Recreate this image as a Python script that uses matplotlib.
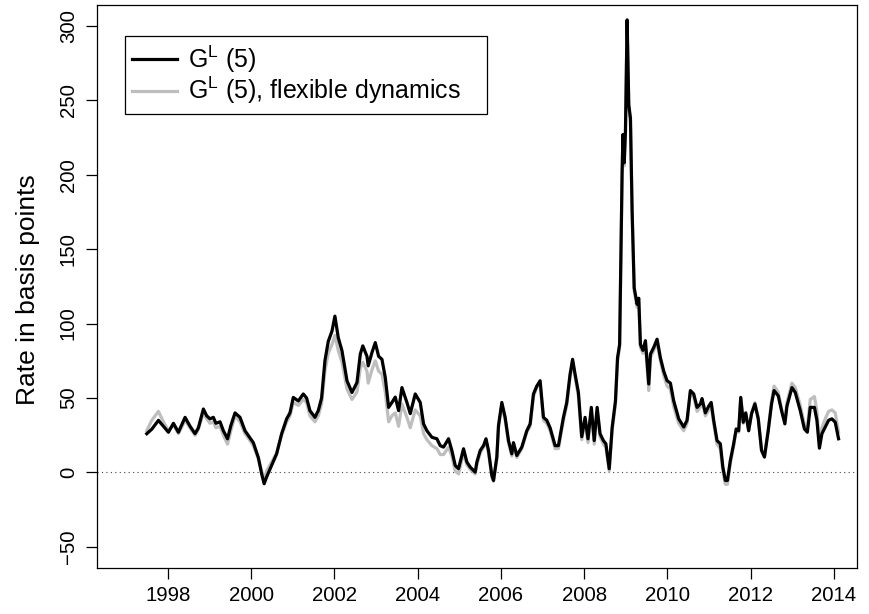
import matplotlib
matplotlib.use("Agg")
import matplotlib.pyplot as plt

# decimal years and rates in basis points
aar = [1997.49, 1997.61, 1997.77, 1997.89, 1998.01, 1998.13, 1998.25, 1998.41, 1998.53, 1998.65,
       1998.73, 1998.85, 1998.93, 1999.01, 1999.09, 1999.15, 1999.25, 1999.33, 1999.43, 1999.51,
       1999.61, 1999.73, 1999.85, 1999.93, 2000.05, 2000.17, 2000.25, 2000.31, 2000.37, 2000.49,
       2000.61, 2000.73, 2000.85, 2000.93, 2001.01, 2001.13, 2001.25, 2001.33, 2001.41, 2001.53,
       2001.61, 2001.69, 2001.77, 2001.85, 2001.94, 2002.01, 2002.09, 2002.18, 2002.30, 2002.42,
       2002.54, 2002.62, 2002.68, 2002.78, 2002.81, 2002.90, 2002.98, 2003.06, 2003.14, 2003.22,
       2003.30, 2003.38, 2003.46, 2003.54, 2003.62, 2003.74, 2003.82, 2003.94, 2004.06, 2004.14,
       2004.22, 2004.34, 2004.46, 2004.54, 2004.62, 2004.74, 2004.82, 2004.90, 2004.98, 2005.10,
       2005.18, 2005.26, 2005.38, 2005.42, 2005.50, 2005.58, 2005.64, 2005.70, 2005.78, 2005.82,
       2005.90, 2005.94, 2006.02, 2006.10, 2006.18, 2006.26, 2006.30, 2006.38, 2006.50, 2006.62,
       2006.70, 2006.78, 2006.86, 2006.94, 2007.02, 2007.10, 2007.18, 2007.30, 2007.38, 2007.50,
       2007.58, 2007.66, 2007.72, 2007.78, 2007.86, 2007.94, 2008.02, 2008.09, 2008.17, 2008.24,
       2008.31, 2008.38, 2008.46, 2008.52, 2008.60, 2008.67, 2008.75, 2008.80, 2008.85, 2008.91,
       2008.93, 2008.96, 2008.99, 2009.03, 2009.07, 2009.11, 2009.15, 2009.20, 2009.27, 2009.31,
       2009.35, 2009.41, 2009.47, 2009.55, 2009.59, 2009.67, 2009.75, 2009.83, 2009.91, 2009.99,
       2010.07, 2010.15, 2010.27, 2010.39, 2010.47, 2010.55, 2010.63, 2010.71, 2010.79, 2010.83,
       2010.91, 2010.99, 2011.05, 2011.11, 2011.19, 2011.27, 2011.33, 2011.39, 2011.44, 2011.51,
       2011.59, 2011.65, 2011.71, 2011.76, 2011.82, 2011.88, 2011.95, 2012.02, 2012.10, 2012.18,
       2012.26, 2012.33, 2012.42, 2012.50, 2012.56, 2012.66, 2012.74, 2012.82, 2012.87, 2012.99,
       2013.07, 2013.19, 2013.29, 2013.36, 2013.43, 2013.53, 2013.59, 2013.65, 2013.71, 2013.79,
       2013.87, 2013.95, 2014.03, 2014.11]

gl5 = [26, 29, 35, 31, 27, 33, 27, 37, 31, 26,
       30, 42.6, 38, 36, 37, 33, 34, 28, 22.6, 31.5,
       40, 37, 28, 24.8, 20, 10, -1, -7.6, -3, 4.7,
       12.5, 26, 36, 40, 50.4, 48, 52.7, 50, 41.5, 37,
       41.5, 50, 75, 88, 95, 105, 90.6, 81.7, 61.6, 53.7,
       60.4, 79.5, 85, 78, 71.6, 80.5, 87.2, 78, 76, 63.8,
       43.7, 47, 50.6, 41.5, 57, 47, 39.5, 52.7, 47, 32.6,
       28, 23.6, 22.6, 18, 17, 22.6, 14.7, 4.7, 2.5, 15.9,
       7, 3.6, 0.2, 6.9, 14.7, 18, 22.6, 14.7, -2, -5.4,
       10.3, 31.5, 47, 37, 21.4, 12.5, 20, 11.4, 17, 28,
       32.6, 52.7, 58, 61.6, 37, 35, 30, 18, 18, 37,
       47, 66, 76, 66, 53.7, 24, 37, 22.6, 43.7, 21.4,
       43.7, 26, 21.4, 19.2, 2.5, 30, 48, 77, 86, 202,
       227, 208, 229, 304, 247, 238, 176, 124, 113, 117,
       86, 82, 88.5, 59.4, 79.5, 84, 89.5, 77, 68, 61.6,
       60, 48, 36, 30.5, 35, 55, 52.7, 43.7, 46, 49.6,
       40, 44.5, 47, 35, 21.4, 19.2, 3.6, -5.4, -5.4, 8,
       19.2, 29.2, 28, 50.4, 33.7, 40, 28, 39.5, 46, 36,
       14.7, 10.3, 28, 46, 55, 51.5, 41.5, 32.6, 44.5, 57,
       53.7, 41.5, 29.2, 27, 43.7, 43.7, 35, 16.3, 26, 30.5,
       35, 36, 33.7, 22.6]

gl5_flex = [28, 35, 41, 34, 28, 32, 26, 35, 30, 25,
            29, 40, 36, 33, 34, 30, 31, 25, 19, 28,
            38, 34, 26, 23, 18, 9, 1, -5, 1, 7,
            13, 25, 34, 38, 47, 45, 49, 47, 38, 34,
            38, 46, 68, 80, 86, 92, 82, 74, 56, 49,
            54, 70, 74, 68, 60, 69, 75, 68, 66, 54,
            34, 38, 40, 31, 46, 37, 30, 42, 38, 26,
            22, 18, 16, 12, 12, 17, 11, 1, -1, 13,
            5, 2, -1, 5, 13, 17, 21, 13, -3, -6,
            9, 30, 45, 35, 20, 11, 19, 10, 16, 27,
            31, 51, 57, 60, 35, 33, 28, 16, 16, 35,
            45, 64, 74, 64, 51, 22, 35, 20, 41, 19,
            41, 24, 19, 17, 1, 28, 46, 75, 84, 200,
            225, 206, 227, 302, 245, 236, 174, 122, 111, 115,
            84, 80, 86, 55, 77, 82, 87, 75, 65, 58,
            56, 44, 33, 28, 33, 54, 51, 41, 44, 48,
            38, 42, 45, 33, 19, 16, 1, -8, -8, 6,
            18, 28, 27, 50, 33, 40, 28, 40, 47, 37,
            15, 11, 29, 48, 58, 54, 43, 34, 47, 60,
            57, 45, 32, 30, 49, 51, 41, 19, 30, 36,
            41, 42, 40, 27]

aarstall = [1998, 2000, 2002, 2004, 2006, 2008, 2010, 2012, 2014]
yticks = [-50, 0, 50, 100, 150, 200, 250, 300]

plt.rcParams['font.family'] = ['Liberation Sans', 'DejaVu Sans']
plt.rcParams['mathtext.fontset'] = 'custom'
plt.rcParams['mathtext.rm'] = 'Liberation Sans'

fig = plt.figure(figsize=(8.69, 6.14), dpi=100)
ax = fig.add_axes([96.7 / 869, 1 - 567.7 / 614, (857 - 96.7) / 869, (567.7 - 5) / 614])

ax.axhline(0, color="#444444", lw=0.8, ls=(0, (1, 3)), zorder=1)
ax.plot(aar, gl5_flex, color="#bebebe", lw=2.3, label=r"$\mathrm{G}^{\mathrm{L}}$ (5), flexible dynamics", zorder=2)
ax.plot(aar, gl5, color="black", lw=2.3, label=r"$\mathrm{G}^{\mathrm{L}}$ (5)", zorder=3)

ax.set_xlim(1996.287, 2014.553)
ax.set_ylim(-64, 314)
ax.set_xticks(aarstall)
ax.set_yticks(yticks)
ax.set_xticklabels([str(a) for a in aarstall], fontsize=14.7)
ax.set_yticklabels([("\u2212" + str(-v)) if v < 0 else str(v) for v in yticks], fontsize=14.7,
                   rotation=90, va="center")
ax.tick_params(axis="x", length=8, width=0.9, pad=5)
ax.tick_params(axis="y", length=8, width=0.9, pad=5.5)
for s in ax.spines.values():
    s.set_linewidth(0.9)
fig.text(28 / 869, 1 - 290 / 614, "Rate in basis points", fontsize=19, rotation=90,
         ha="center", va="center")

# legend: svart først, boksen strekkes til samme bredde som i originalen
h, l = ax.get_legend_handles_labels()
ax.legend(h[::-1], l[::-1], loc="upper left", bbox_to_anchor=(0.0372, 0.9449, 0.4761, 0),
          mode="expand", fontsize=18,
          frameon=True, fancybox=False, edgecolor="black", framealpha=1,
          handlelength=1.8, handletextpad=0.44, labelspacing=0.0, borderpad=0.3,
          borderaxespad=0)
ax.get_legend().get_frame().set_linewidth(0.9)

fig.savefig("out.png", dpi=100)
